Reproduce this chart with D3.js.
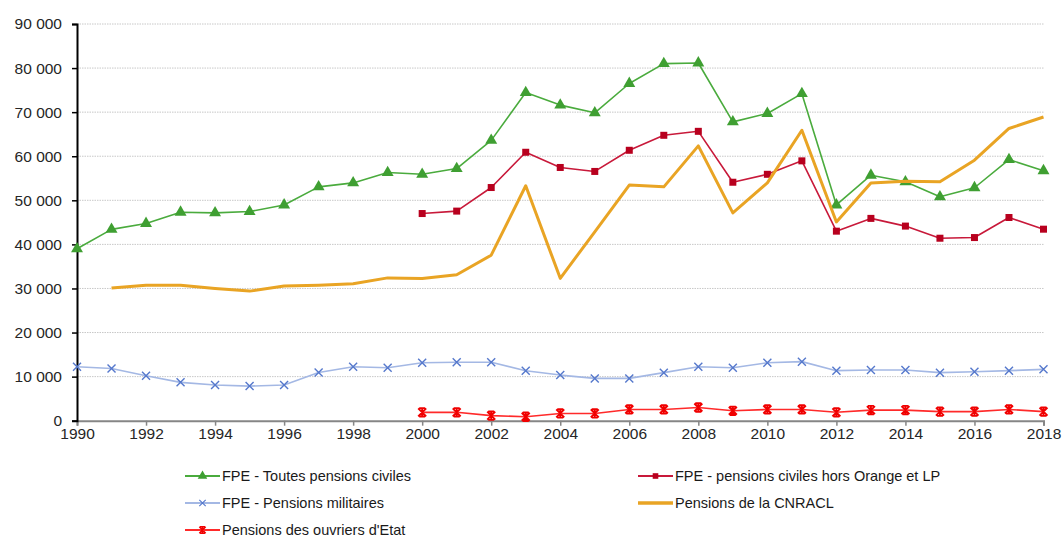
<!DOCTYPE html>
<html>
<head>
<meta charset="utf-8">
<script src="https://cdn.jsdelivr.net/npm/d3@7"></script>
<style>
  body { margin: 0; background: #fff; }
  svg { display: block; font-family: "Liberation Sans", Arial, sans-serif; }
</style>
</head>
<body>
<svg id="chart" width="1064" height="537"></svg>
<script>
//
// Data
//
const years = d3.range(1990, 2019);
const yTicks = [0, 10000, 20000, 30000, 40000, 50000, 60000, 70000, 80000, 90000];
const xTicks = d3.range(1990, 2019, 2);

// FPE - Toutes pensions civiles (1990-2018)
const toutesCiviles = [39000, 43400, 44750, 47300, 47150, 47450, 48950, 53050, 53950, 56300,
  55900, 57200, 63600, 74450, 71600, 69850, 76500, 81000, 81150, 67800,
  69700, 74200, 48950, 55700, 54200, 50800, 52850, 59250, 56700];

// FPE - pensions civiles hors Orange et LP (2000-2018)
const horsOrange = [null, null, null, null, null, null, null, null, null, null,
  47000, 47550, 52900, 60900, 57450, 56550, 61350, 64750, 65650, 54100,
  55900, 58950, 43000, 45900, 44150, 41400, 41550, 46100, 43450];

// FPE - Pensions militaires (1990-2018)
const militaires = [12250, 11850, 10200, 8700, 8100, 7850, 8100, 10950, 12250, 12000,
  13150, 13250, 13250, 11350, 10350, 9600, 9600, 10900, 12250, 12000,
  13150, 13400, 11350, 11500, 11500, 10900, 11100, 11350, 11650];

// Pensions de la CNRACL (1991-2018)
const cnracl = [null, 30100, 30750, 30750, 30000, 29400, 30550, 30750, 31050, 32400,
  32250, 33100, 37550, 53300, 32300, 42850, 53450, 53050, 62350, 47150,
  53950, 65900, 45100, 53950, 54350, 54200, 59100, 66300, 68900];

// Pensions des ouvriers d'Etat (2000-2018)
const ouvriers = [null, null, null, null, null, null, null, null, null, null,
  1900, 1900, 1150, 900, 1650, 1650, 2550, 2550, 3000, 2250,
  2550, 2550, 1900, 2400, 2400, 2050, 2050, 2550, 2050];

const series = [
  { name: "FPE - Toutes pensions civiles", values: toutesCiviles, color: "#4aab3d", width: 1.6, marker: "triangle", mcolor: "#3f9f32" },
  { name: "FPE - pensions civiles hors Orange et LP", values: horsOrange, color: "#c8193a", width: 1.6, marker: "square", mcolor: "#b8001e" },
  { name: "FPE - Pensions militaires", values: militaires, color: "#a4b8e4", width: 1.6, marker: "x", mcolor: "#5578cc" },
  { name: "Pensions de la CNRACL", values: cnracl, color: "#e9a424", width: 3, marker: null },
  { name: "Pensions des ouvriers d'Etat", values: ouvriers, color: "#ff2a2a", width: 1.6, marker: "star", mcolor: "#f00000" },
];

// legend order: two columns
const legendPos = [
  { s: 0, x: 185, y: 476 },
  { s: 1, x: 638, y: 476 },
  { s: 2, x: 185, y: 503 },
  { s: 3, x: 638, y: 503 },
  { s: 4, x: 185, y: 530 },
];

//
// Chart
//
const svg = d3.select("#chart");
const margin = { left: 77, top: 24 };

const x = d3.scaleLinear().domain([1990, 2018]).range([margin.left, 1043.5]);
const y = d3.scaleLinear().domain([0, 90000]).range([420.7, margin.top]);

const fmt = (v) => d3.format(",")(v).replace(/,/g, " ");

// gridlines
svg.append("g")
  .selectAll("line")
  .data(yTicks.filter((d) => d > 0))
  .enter()
  .append("line")
  .attr("x1", x(1990))
  .attr("x2", x(2018))
  .attr("y1", (d) => y(d))
  .attr("y2", (d) => y(d))
  .attr("stroke", "#c8c8c8")
  .attr("stroke-width", 1)
  .attr("stroke-dasharray", "1.5,1");

// x axis
const xAxis = svg.append("g")
  .attr("transform", `translate(0,${y(0)})`)
  .call(d3.axisBottom(x).tickValues(xTicks).tickFormat(d3.format("d")).tickSize(5).tickPadding(2));
xAxis.select(".domain").attr("stroke", "#868686").attr("stroke-width", 2);
xAxis.selectAll(".tick line").attr("stroke", "#868686").attr("stroke-width", 1.5);
xAxis.selectAll("text").attr("font-size", 15.5).attr("fill", "#262626")
  .attr("font-family", "Liberation Sans, Arial, sans-serif");

// y axis
const yAxis = svg.append("g")
  .attr("transform", `translate(${x(1990)},0)`)
  .call(d3.axisLeft(y).tickValues(yTicks).tickFormat(fmt).tickSize(5).tickPadding(10));
yAxis.select(".domain").attr("stroke", "#000").attr("stroke-width", 2);
yAxis.selectAll(".tick line").attr("stroke", "#000").attr("stroke-width", 1.5);
yAxis.selectAll("text").attr("font-size", 15.5).attr("fill", "#262626")
  .attr("font-family", "Liberation Sans, Arial, sans-serif");

// lines
const line = d3.line()
  .defined((d) => d != null)
  .x((d, i) => x(years[i]))
  .y((d) => y(d));

function drawMarker(g, type, color) {
  if (type === "triangle") {
    g.append("path").attr("d", d3.symbol(d3.symbolTriangle, 62)()).attr("fill", color);
  } else if (type === "square") {
    g.append("rect").attr("x", -3.5).attr("y", -3.5).attr("width", 7).attr("height", 7).attr("fill", color);
  } else if (type === "x") {
    g.append("path").attr("d", "M-4,-4L4,4M-4,4L4,-4").attr("stroke", color).attr("stroke-width", 1.4).attr("fill", "none");
  } else if (type === "star") {
    g.append("path").attr("d", "M-4,-4L4,4M-4,4L4,-4M0,-4.5L0,4.5M-3,-4.2L3,-4.2M-3,4.2L3,4.2")
      .attr("stroke", color).attr("stroke-width", 1.9).attr("fill", "none");
  }
}

series.forEach((s) => {
  svg.append("path")
    .datum(s.values)
    .attr("fill", "none")
    .attr("stroke", s.color)
    .attr("stroke-width", s.width)
    .attr("stroke-linejoin", "round")
    .attr("d", line);
  if (s.marker) {
    svg.append("g")
      .selectAll("g")
      .data(s.values.map((v, i) => ({ v: v, yr: years[i] })).filter((d) => d.v != null))
      .enter()
      .append("g")
      .attr("transform", (d) => `translate(${x(d.yr)},${y(d.v)})`)
      .each(function () { drawMarker(d3.select(this), s.marker, s.mcolor); });
  }
});

// legend
const leg = svg.append("g")
  .selectAll("g")
  .data(legendPos)
  .enter()
  .append("g")
  .attr("transform", (d) => `translate(${d.x},${d.y})`);

leg.append("line")
  .attr("x1", 0).attr("x2", 35)
  .attr("stroke", (d) => series[d.s].color)
  .attr("stroke-width", (d) => series[d.s].width + 0.6);

leg.append("g")
  .attr("transform", "translate(17.5,0) scale(0.8)")
  .each(function (d) {
    const s = series[d.s];
    if (s.marker) drawMarker(d3.select(this), s.marker, s.mcolor);
  });

leg.append("text")
  .attr("x", 37)
  .attr("dy", "0.35em")
  .attr("font-size", 14.5)
  .attr("fill", "#1a1a1a")
  .text((d) => series[d.s].name);
</script>
</body>
</html>
